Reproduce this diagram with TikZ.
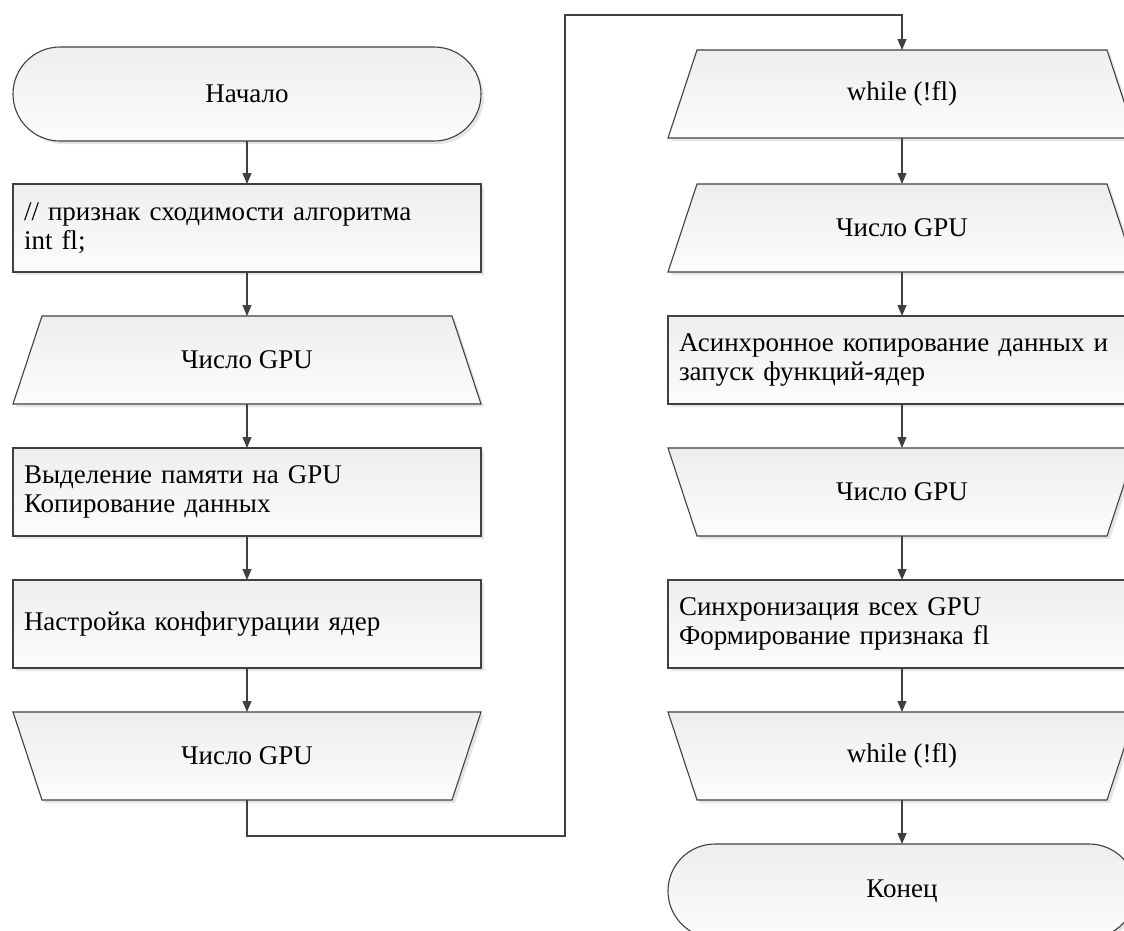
\documentclass[tikz,border=0pt]{standalone}
\usepackage{fontspec}
\setmainfont{Liberation Serif}
\usetikzlibrary{shapes.misc,arrows.meta,shadows}
\definecolor{edgec}{RGB}{64,64,64}
\definecolor{filltop}{RGB}{238,238,238}
\definecolor{fillbot}{RGB}{252,252,252}
\tikzset{
  look/.style={draw=edgec, line width=1.1pt, top color=filltop, bottom color=fillbot,
    drop shadow={shadow xshift=3pt, shadow yshift=-3pt, opacity=0.10, fill=black}},
  txt/.style={font=\fontsize{27}{29}\selectfont, inner sep=0pt, outer sep=0pt},
  term/.style={look, txt, rounded rectangle, minimum width=468pt, minimum height=94pt},
  proc/.style={look, txt, rectangle, minimum width=468pt, minimum height=88pt, text width=446pt, align=left},
  loopnode/.style={txt, rectangle, draw=none, minimum width=468pt, minimum height=88pt},
  arr/.style={draw=edgec, line width=1.1pt, -{Triangle[length=11pt,width=9pt]}}
}
% loop-open shape: narrow top
\newcommand\loopopenshape[2]{\path[look] (#1-234,#2+44) -- (#1-205,#2-44) -- (#1+205,#2-44) -- (#1+234,#2+44) -- cycle;}
% loop-close shape: narrow bottom
\newcommand\loopcloseshape[2]{\path[look] (#1-234,#2-44) -- (#1+234,#2-44) -- (#1+205,#2+44) -- (#1-205,#2+44) -- cycle;}
\begin{document}
\begin{tikzpicture}[x=1pt,y=-1pt]
\useasboundingbox (0,0) rectangle (1124,930);
\fill[white] (0,0) rectangle (1124,930);
\clip (0,0) rectangle (1124,930);
% left column
\node[term] (start) at (247,94) {Начало};
\node[proc] (decl) at (247,228) {// признак сходимости алгоритма\\int fl;};
\loopopenshape{247}{360}
\node[loopnode] (gpu1) at (247,360) {Число GPU};
\node[proc] (alloc) at (247,492) {Выделение памяти на GPU\\Копирование данных};
\node[proc] (conf) at (247,624) {Настройка конфигурации ядер};
\loopcloseshape{247}{756}
\node[loopnode] (gpu2) at (247,756) {Число GPU};
% right column
\loopopenshape{902}{94}
\node[loopnode] (wh1) at (902,94) {while (!fl)};
\loopopenshape{902}{228}
\node[loopnode] (gpu3) at (902,228) {Число GPU};
\node[proc] (async) at (902,360) {Асинхронное копирование данных и\\запуск функций-ядер};
\loopcloseshape{902}{492}
\node[loopnode] (gpu4) at (902,492) {Число GPU};
\node[proc] (sync) at (902,624) {Синхронизация всех GPU\\Формирование признака fl};
\loopcloseshape{902}{756}
\node[loopnode] (wh2) at (902,756) {while (!fl)};
\node[term] (stop) at (902,891) {Конец};
% connectors
\draw[arr] (start.south) -- (decl.north);
\draw[arr] (decl.south) -- (gpu1.north);
\draw[arr] (gpu1.south) -- (alloc.north);
\draw[arr] (alloc.south) -- (conf.north);
\draw[arr] (conf.south) -- (gpu2.north);
\coordinate (cb) at (565,836);
\coordinate (ct) at (565,15);
\draw[arr] (gpu2.south) |- (cb) -- (ct) -| (wh1.north);
\draw[arr] (wh1.south) -- (gpu3.north);
\draw[arr] (gpu3.south) -- (async.north);
\draw[arr] (async.south) -- (gpu4.north);
\draw[arr] (gpu4.south) -- (sync.north);
\draw[arr] (sync.south) -- (wh2.north);
\draw[arr] (wh2.south) -- (stop.north);
\end{tikzpicture}
\end{document}
